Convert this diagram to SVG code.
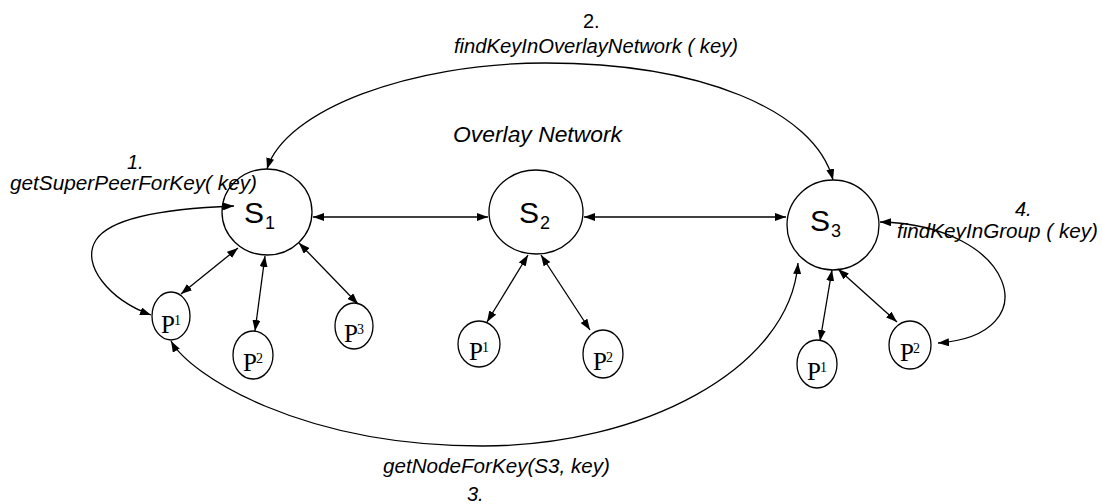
<svg xmlns="http://www.w3.org/2000/svg" width="1102" height="504" viewBox="0 0 1102 504">
<style>
.node{fill:#fff;stroke:#000;stroke-width:1.3}
.edge{fill:none;stroke:#000;stroke-width:1.3;marker-start:url(#ah);marker-end:url(#ah)}
.lbl{font-family:"Liberation Sans",Arial,sans-serif;font-size:20px;font-style:italic;fill:#000}
.num{font-family:"Liberation Sans",Arial,sans-serif;font-size:20px;fill:#000}
.s{font-family:"Liberation Sans",Arial,sans-serif;font-size:30px;fill:#000}
.ss{font-family:"Liberation Sans",Arial,sans-serif;font-size:18px;fill:#000}
.p{font-family:"Liberation Serif","Times New Roman",serif;font-size:25px;fill:#000}
.pd{font-family:"Liberation Serif","Times New Roman",serif;font-size:14px;fill:#000}
</style>
<defs>
<marker id="ah" viewBox="0 0 11 8" refX="11" refY="4" markerWidth="11" markerHeight="8" markerUnits="userSpaceOnUse" orient="auto-start-reverse">
<path d="M0,0 L11,4 L0,8 z" fill="#000"/>
</marker>
</defs>
<rect width="1102" height="504" fill="#fff"/>

<g id="S1"><ellipse class="node" cx="267" cy="212" rx="45" ry="43"/><text class="s" x="244" y="223">S</text><text class="ss" x="265" y="229">1</text></g>
<g id="S2"><ellipse class="node" cx="536" cy="212" rx="47" ry="42"/><text class="s" x="519" y="223">S</text><text class="ss" x="540" y="229">2</text></g>
<g id="S3"><ellipse class="node" cx="833" cy="225" rx="46" ry="45"/><text class="s" x="810" y="231">S</text><text class="ss" x="831" y="237">3</text></g>

<g id="S1P1"><ellipse class="node" cx="171" cy="316" rx="19" ry="24"/><text class="p" x="161" y="333">P</text><text class="pd" x="174" y="325">1</text></g>
<g id="S1P2"><ellipse class="node" cx="253" cy="355" rx="20" ry="24"/><text class="p" x="243" y="371">P</text><text class="pd" x="256" y="363">2</text></g>
<g id="S1P3"><ellipse class="node" cx="354" cy="326" rx="19" ry="23"/><text class="p" x="344" y="342">P</text><text class="pd" x="357" y="334">3</text></g>
<g id="S2P1"><ellipse class="node" cx="479" cy="344" rx="21" ry="23"/><text class="p" x="469" y="360">P</text><text class="pd" x="482" y="352">1</text></g>
<g id="S2P2"><ellipse class="node" cx="603" cy="354" rx="20" ry="24"/><text class="p" x="593" y="370">P</text><text class="pd" x="606" y="362">2</text></g>
<g id="S3P1"><ellipse class="node" cx="817" cy="364" rx="20" ry="24"/><text class="p" x="807" y="380">P</text><text class="pd" x="820" y="372">1</text></g>
<g id="S3P2"><ellipse class="node" cx="910" cy="345" rx="21" ry="24"/><text class="p" x="900" y="361">P</text><text class="pd" x="913" y="353">2</text></g>

<g id="connectors">
<line class="edge" x1="313" y1="217" x2="488" y2="217"/>
<line class="edge" x1="584" y1="217" x2="786" y2="217"/>
<line class="edge" x1="238" y1="248" x2="181" y2="294"/>
<line class="edge" x1="265" y1="256" x2="255" y2="331"/>
<line class="edge" x1="299" y1="243" x2="358" y2="304"/>
<line class="edge" x1="528" y1="255" x2="487" y2="322"/>
<line class="edge" x1="541" y1="255" x2="590" y2="330"/>
<line class="edge" x1="832" y1="270" x2="820" y2="341"/>
<line class="edge" x1="838" y1="269" x2="897" y2="322"/>
<path class="edge" d="M151,315 C110,300 80,265 96,240 C112,215 180,208 234,206"/>
<path class="edge" d="M267,169 C285,110 410,63 545,63 C700,63 815,110 833,180"/>
<path class="edge" d="M171,341 C190,375 300,446 483,446 C640,446 790,370 798,263"/>
<path class="edge" d="M880,222 C1015,225 1050,335 938,343"/>
</g>

<g id="labels">
<text class="num" x="583" y="28">2.</text>
<text class="lbl" x="454" y="53" textLength="284" lengthAdjust="spacingAndGlyphs">findKeyInOverlayNetwork ( key)</text>
<text class="lbl" x="453" y="142" textLength="169" lengthAdjust="spacingAndGlyphs" style="font-size:22px">Overlay Network</text>
<text class="lbl" x="127" y="169">1.</text>
<text class="lbl" x="10" y="190" textLength="247" lengthAdjust="spacingAndGlyphs">getSuperPeerForKey( key)</text>
<text class="lbl" x="1015" y="216">4.</text>
<text class="lbl" x="897" y="238" textLength="201" lengthAdjust="spacingAndGlyphs">findKeyInGroup ( key)</text>
<text class="lbl" x="383" y="473" textLength="227" lengthAdjust="spacingAndGlyphs">getNodeForKey(S3, key)</text>
<text class="lbl" x="467" y="501">3.</text>
</g>
</svg>
